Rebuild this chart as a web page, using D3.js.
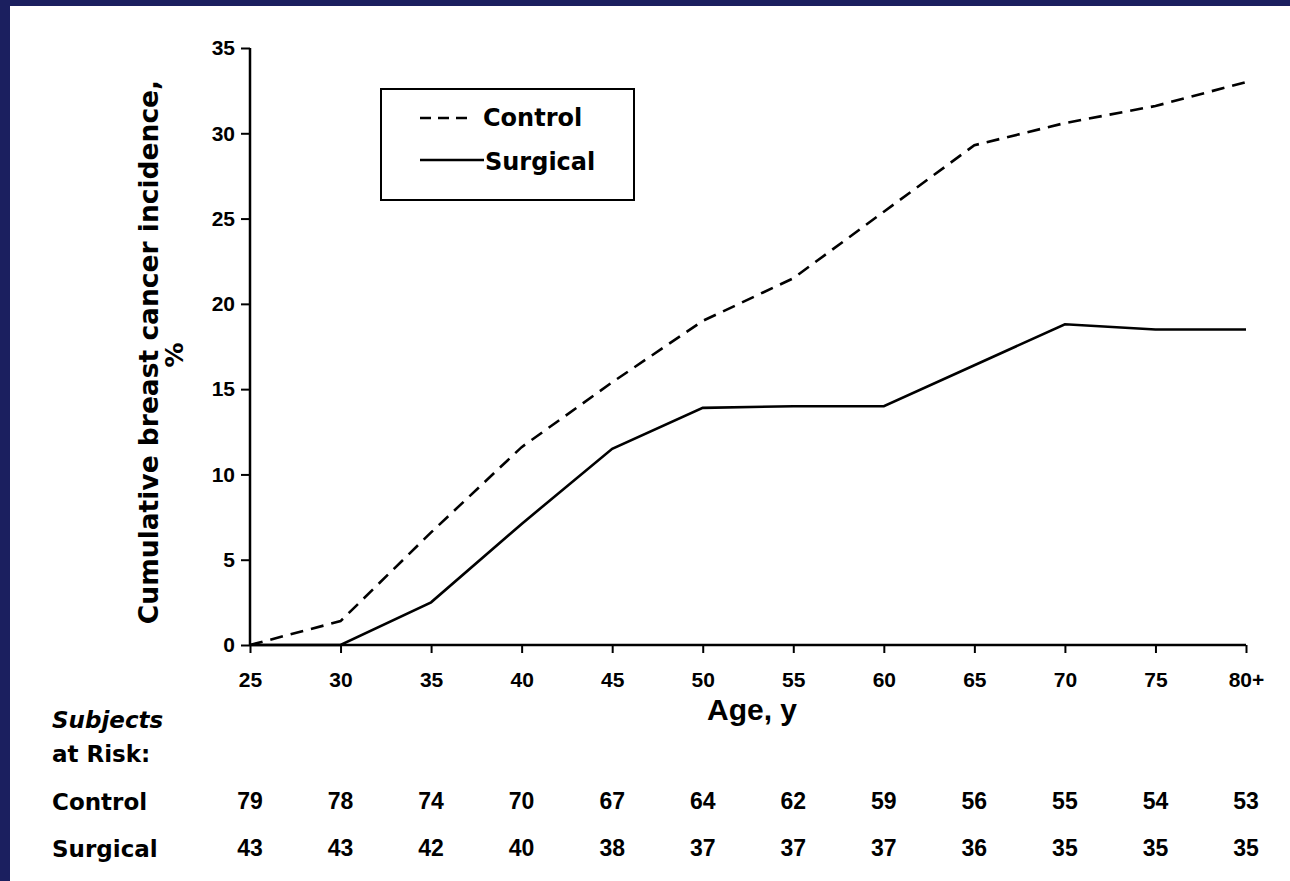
<!DOCTYPE html>
<html>
<head>
<meta charset="utf-8">
<script src="https://cdn.jsdelivr.net/npm/d3@7"></script>
<style>
  body { margin: 0; background: #fff; }
  svg { display: block; font-family: "DejaVu Sans", sans-serif; font-weight: bold; }
</style>
</head>
<body>
<svg id="chart"></svg>
<script>
const WIDTH = 1290;
const HEIGHT = 881;
const FONT = "'DejaVu Sans', sans-serif";
const NUM_FONT = "Arial, 'Liberation Sans', sans-serif";

const ages = ["25", "30", "35", "40", "45", "50", "55", "60", "65", "70", "75", "80+"];
const control = [0, 1.4, 6.6, 11.6, 15.4, 19.0, 21.5, 25.4, 29.3, 30.6, 31.6, 33.0];
const surgical = [0, 0, 2.5, 7.1, 11.5, 13.9, 14.0, 14.0, 16.4, 18.8, 18.5, 18.5];
const yTicks = [0, 5, 10, 15, 20, 25, 30, 35];
const controlAtRisk = [79, 78, 74, 70, 67, 64, 62, 59, 56, 55, 54, 53];
const surgicalAtRisk = [43, 43, 42, 40, 38, 37, 37, 37, 36, 35, 35, 35];

const svg = d3.select("#chart").attr("width", WIDTH).attr("height", HEIGHT);

// scan frame
svg.append("rect").attr("width", WIDTH).attr("height", HEIGHT).attr("fill", "#fff");
svg.append("rect").attr("width", WIDTH).attr("height", 6).attr("fill", "#1b1f5f");
svg.append("rect").attr("width", 10).attr("height", HEIGHT).attr("fill", "#1b1f5f");

const x = d3.scalePoint().domain(ages).range([250, 1246]);
const y = d3.scaleLinear().domain([0, 35]).range([645, 48]);

const yAxis = d3.axisLeft(y).tickValues(yTicks).tickSize(9).tickSizeOuter(0).tickPadding(6);
const xAxis = d3.axisBottom(x).tickSize(8).tickSizeOuter(0).tickPadding(19);

const gy = svg.append("g").attr("transform", `translate(${x("25")},0)`).call(yAxis);
const gx = svg.append("g").attr("transform", `translate(0,${y(0)})`).call(xAxis);

[gx, gy].forEach(g => {
  g.attr("font-family", null).attr("font-size", null);
  g.select(".domain").attr("stroke", "#000").attr("stroke-width", 2.5);
  g.selectAll(".tick line").attr("stroke", "#000").attr("stroke-width", 2);
  g.selectAll(".tick text")
    .attr("fill", "#000")
    .style("font-size", "21px")
    .style("font-weight", "bold")
    .style("font-family", NUM_FONT);
});
gy.select(".domain").attr("d", `M0,${y(0)}V${y(35)}`);
gx.select(".domain").attr("d", `M${x("25")},0H${x("80+")}`);

const line = d3.line()
  .x((d, i) => x(ages[i]))
  .y(d => y(d));

svg.append("path")
  .datum(control)
  .attr("d", line)
  .attr("fill", "none")
  .attr("stroke", "#000")
  .attr("stroke-width", 2.6)
  .attr("stroke-dasharray", "13,8");

svg.append("path")
  .datum(surgical)
  .attr("d", line)
  .attr("fill", "none")
  .attr("stroke", "#000")
  .attr("stroke-width", 2.6);

// legend
const legend = svg.append("g");
legend.append("rect")
  .attr("x", 381).attr("y", 89)
  .attr("width", 253).attr("height", 111)
  .attr("fill", "#fff")
  .attr("stroke", "#000")
  .attr("stroke-width", 2);
legend.append("line")
  .attr("x1", 420).attr("x2", 474).attr("y1", 118).attr("y2", 118)
  .attr("stroke", "#000").attr("stroke-width", 2.4)
  .attr("stroke-dasharray", "11,7");
legend.append("line")
  .attr("x1", 420).attr("x2", 484).attr("y1", 160).attr("y2", 160)
  .attr("stroke", "#000").attr("stroke-width", 2.4);
legend.append("text").attr("x", 483).attr("y", 126).style("font-size", "24px").text("Control");
legend.append("text").attr("x", 485).attr("y", 170).style("font-size", "24px").text("Surgical");

// axis titles
svg.append("text")
  .attr("transform", "translate(158,352) rotate(-90)")
  .attr("text-anchor", "middle")
  .style("font-size", "26.5px")
  .text("Cumulative breast cancer incidence,");
svg.append("text")
  .attr("transform", "translate(183,355) rotate(-90)")
  .attr("text-anchor", "middle")
  .style("font-size", "25px")
  .text("%");
svg.append("text")
  .attr("x", 707).attr("y", 720)
  .style("font-family", NUM_FONT)
  .style("font-size", "30px")
  .text("Age, y");

// subjects at risk table
svg.append("text").attr("x", 52).attr("y", 728).style("font-size", "23px").style("font-style", "italic").text("Subjects");
svg.append("text").attr("x", 52).attr("y", 762).style("font-size", "23px").text("at Risk:");
svg.append("text").attr("x", 52).attr("y", 810).style("font-size", "23px").text("Control");
svg.append("text").attr("x", 52).attr("y", 857).style("font-size", "23px").text("Surgical");

svg.append("g").selectAll("text")
  .data(controlAtRisk)
  .join("text")
  .attr("x", (d, i) => x(ages[i]))
  .attr("y", 809)
  .attr("text-anchor", "middle")
  .style("font-family", NUM_FONT)
  .style("font-size", "23px")
  .text(d => d);

svg.append("g").selectAll("text")
  .data(surgicalAtRisk)
  .join("text")
  .attr("x", (d, i) => x(ages[i]))
  .attr("y", 856)
  .attr("text-anchor", "middle")
  .style("font-family", NUM_FONT)
  .style("font-size", "23px")
  .text(d => d);
</script>
</body>
</html>
